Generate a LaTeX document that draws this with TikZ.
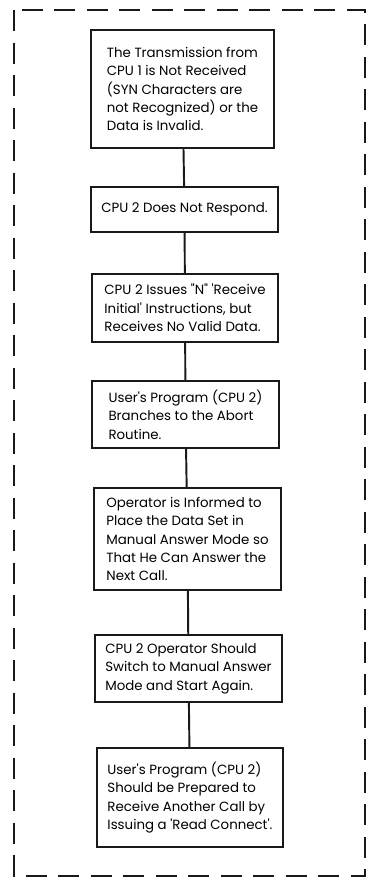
\documentclass[tikz,border=0pt]{standalone}
\usepackage{fontspec}
\setmainfont{Poppins}[Ligatures=TeXOff]
\usepackage{tikz}
\definecolor{figline}{RGB}{25,25,25}
\tikzset{
  bx/.style ={draw=figline, line width=1.1pt, align=left, inner sep=1pt,
              font=\fontsize{7.6pt}{10.5pt}\selectfont},
  ln/.style ={draw=figline, line width=1.1pt},
  fr/.style ={draw=figline, line width=1.1pt, dash pattern=on 12pt off 6.5pt},
}
\begin{document}
\begin{tikzpicture}[x=0.02cm,y=-0.02cm]
  \useasboundingbox (0,0) rectangle (373,880);
  \draw[fr] (14,10) rectangle (365,876);
  \node[bx,minimum width=3.66cm,minimum height=2.36cm] (b1) at (182.5,89)
    {The Transmission from\\CPU 1 is Not Received\\(SYN Characters are\\not Recognized) or the\\Data is Invalid.};
  \node[bx,minimum width=3.74cm,minimum height=0.9cm] (b2) at (184.5,209.5)
    {CPU 2 Does Not Respond.};
  \node[bx,minimum width=3.72cm,minimum height=1.36cm] (b3) at (185,308)
    {CPU 2 Issues "N" 'Receive\\Initial' Instructions, but\\Receives No Valid Data.};
  \node[bx,minimum width=3.74cm,minimum height=1.34cm] (b4) at (185.5,414.5)
    {User's Program (CPU 2)\\Branches to the Abort\\Routine.};
  \node[bx,minimum width=3.74cm,minimum height=2.04cm] (b5) at (187.5,539)
    {Operator is Informed to\\Place the Data Set in\\Manual Answer Mode so\\That He Can Answer the\\Next Call.};
  \node[bx,minimum width=3.74cm,minimum height=1.34cm] (b6) at (188.5,668.5)
    {CPU 2 Operator Should\\Switch to Manual Answer\\Mode and Start Again.};
  \node[bx,minimum width=3.72cm,minimum height=1.98cm] (b7) at (190,797.5)
    {User's Program (CPU 2)\\Should be Prepared to\\Receive Another Call by\\Issuing a 'Read Connect'.};
  \draw[ln] (b1) -- (b2);
  \draw[ln] (b2) -- (b3);
  \draw[ln] (b3) -- (b4);
  \draw[ln] (b4) -- (b5);
  \draw[ln] (b5) -- (b6);
  \draw[ln] (b6) -- (b7);
\end{tikzpicture}
\end{document}
